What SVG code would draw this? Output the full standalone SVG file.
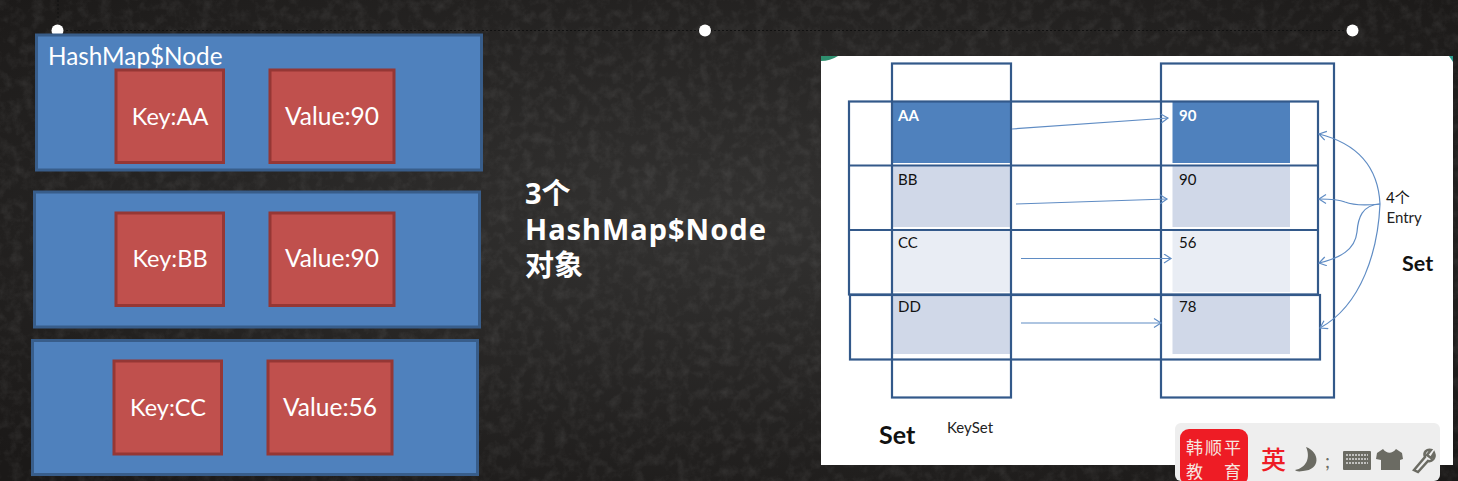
<svg xmlns="http://www.w3.org/2000/svg" width="1458" height="481" viewBox="0 0 1458 481">
<style>
.nodebox{fill:#4f81bd;stroke:#385d8a;stroke-width:3}
.red{fill:#c0504d;stroke:#953735;stroke-width:3}
.w{fill:#fff;font-family:"Lato","Noto Sans CJK SC",sans-serif;font-size:23.500px}
.v{font-size:24.500px}
.m{text-anchor:middle}
.frame{fill:none;stroke:#33598a;stroke-width:2.200}
.cell{font-family:"Lato","Noto Sans CJK SC",sans-serif;font-size:15px;fill:#111}
.wb{fill:#fff;font-weight:700}
.b{font-family:"Lato",sans-serif;font-weight:700;fill:#111;font-size:25px}
.conn{fill:none;stroke:#5f8cc4;stroke-width:1.200;marker-end:url(#arr)}
.dot{fill:#fff}
.ic{fill:#6b6b63}
</style>
<defs>
<marker id="arr" markerUnits="userSpaceOnUse" markerWidth="10" markerHeight="12" refX="8" refY="5" orient="auto"><path d="M1 0.500L8 5L1 9.500" fill="none" stroke="#5f8cc4" stroke-width="1.200"/></marker>
<radialGradient id="bg" cx="50%" cy="45%" r="70%"><stop offset="0" stop-color="#333231"/><stop offset="1" stop-color="#1b1918"/></radialGradient>
<filter id="grain" x="0" y="0" width="100%" height="100%"><feTurbulence type="fractalNoise" baseFrequency="0.09" numOctaves="5" seed="4"/><feColorMatrix values="0 0 0 0 1 0 0 0 0 1 0 0 0 0 1 0.6 0 0 0 -0.25"/></filter>
</defs>
<rect width="1458" height="481" fill="url(#bg)"/>
<rect width="1458" height="481" filter="url(#grain)" opacity="0.25"/>

<path d="M58 0V30M58 30.500H1352" fill="none" stroke="#111" stroke-width="1" stroke-dasharray="2 2"/>
<circle class="dot" cx="57.500" cy="30.500" r="6"/><circle class="dot" cx="705" cy="30.500" r="6"/><circle class="dot" cx="1352.500" cy="30.500" r="6"/>

<g id="node-aa">
<rect class="nodebox" x="36.500" y="35" width="445" height="135"/>
<text class="w" x="48" y="65" style="font-size:24.300px">HashMap$Node</text>
<rect class="red" x="116" y="70" width="107.500" height="92.500"/><text class="w m" x="170" y="125">Key:AA</text>
<rect class="red" x="270" y="70" width="124" height="92.500"/><text class="w m v" x="332" y="125">Value:90</text>
</g>
<g id="node-bb">
<rect class="nodebox" x="34.500" y="192" width="445" height="135"/>
<rect class="red" x="116" y="213" width="107.500" height="92.500"/><text class="w m" x="170" y="267">Key:BB</text>
<rect class="red" x="270" y="213" width="124" height="92.500"/><text class="w m v" x="332" y="267">Value:90</text>
</g>
<g id="node-cc">
<rect class="nodebox" x="32.500" y="340.500" width="445" height="134"/>
<rect class="red" x="114" y="361" width="107.500" height="93"/><text class="w m" x="168" y="416">Key:CC</text>
<rect class="red" x="268" y="361" width="124" height="93"/><text class="w m v" x="330" y="416">Value:56</text>
</g>

<g id="caption" font-family="'Noto Sans','Noto Sans CJK SC',sans-serif" font-weight="700" font-size="29" fill="#fff">
<text x="525" y="204">3个</text><text x="525" y="240" letter-spacing="1">HashMap$Node</text><text x="525" y="276">对象</text>
</g>

<g id="panel">
<rect x="821" y="56" width="632" height="409" fill="#fff"/>
<path d="M821 56H838Q830 61 821 61Z" fill="#2f8f6f"/>
<path d="M1449 56H1453V62Z" fill="#2f9f8f"/>
</g>
<g id="cells">
<rect x="893" y="102" width="117" height="61" fill="#4f81bd"/>
<rect x="893" y="166" width="117" height="61" fill="#d0d8e8"/>
<rect x="893" y="231" width="117" height="61" fill="#e9edf4"/>
<rect x="893" y="296" width="117" height="58" fill="#d0d8e8"/>
<rect x="1172.500" y="102" width="117.500" height="61" fill="#4f81bd"/>
<rect x="1172.500" y="166" width="117.500" height="61" fill="#d0d8e8"/>
<rect x="1172.500" y="231" width="117.500" height="61" fill="#e9edf4"/>
<rect x="1172.500" y="296" width="117.500" height="58" fill="#d0d8e8"/>
<text class="cell wb" x="898" y="121">AA</text><text class="cell" x="898" y="185">BB</text><text class="cell" x="898" y="248">CC</text><text class="cell" x="898" y="312">DD</text>
<text class="cell wb" x="1179" y="121">90</text><text class="cell" x="1179" y="185">90</text><text class="cell" x="1179" y="248">56</text><text class="cell" x="1179" y="312">78</text>
</g>
<g id="frames">
<rect class="frame" x="892" y="63.500" width="119" height="334"/>
<rect class="frame" x="1161" y="63.500" width="173" height="334"/>
<rect class="frame" x="849" y="101.500" width="469" height="193"/>
<path class="frame" d="M849 165.500H1318M849 230H1318"/>
<rect class="frame" x="850" y="295" width="470" height="64.500"/>
</g>
<g id="connectors">
<path class="conn" d="M1012 129L1168 118"/>
<path class="conn" d="M1016 204L1167 199"/>
<path class="conn" d="M1021 258.500L1171 258.500"/>
<path class="conn" d="M1021 323L1161 323"/>
<path class="conn" d="M1380 204C1378 165 1355 143 1319 134"/>
<path class="conn" d="M1380 204C1360 206 1350 204 1345 202C1338 199 1330 199 1319 199"/>
<path class="conn" d="M1380 204C1362 205 1358 218 1357 232C1355 250 1340 258 1319 263"/>
<path class="conn" d="M1380 204C1378 250 1362 305 1320 328"/>
</g>
<g id="labels">
<text x="1386" y="203" font-family="Lato,'Noto Sans CJK SC',sans-serif" font-size="15" fill="#111">4个</text>
<text x="1386.500" y="223" font-family="Lato,sans-serif" font-size="15" fill="#222">Entry</text>
<text class="b" x="1402" y="271" style="font-size:21.500px">Set</text>
<text class="b" x="879" y="444">Set</text>
<text x="947" y="433" font-family="Lato,sans-serif" font-size="15" fill="#222">KeySet</text>
</g>
<g id="ime">
<rect x="1175" y="423" width="265" height="58" rx="6" fill="#eeeeee"/>
<rect x="1180" y="429" width="68" height="56" rx="9" fill="#ee1c25"/>
<text x="1186" y="454" font-family="'Noto Sans CJK SC',sans-serif" font-size="17" letter-spacing="2" fill="#f6e6e0">韩顺平</text>
<text x="1186" y="478" font-family="'Noto Sans CJK SC',sans-serif" font-size="17" fill="#f6e6e0">教</text>
<text x="1224" y="478" font-family="'Noto Sans CJK SC',sans-serif" font-size="17" fill="#f6e6e0">育</text>
<text x="1261" y="469" font-family="'Noto Sans CJK SC',sans-serif" font-size="25" font-weight="500" fill="#ee1c25">英</text>
<path class="ic" d="M1306 447C1320 452 1321 470 1303 471C1298 472 1296 471 1295 470C1306 468 1311 458 1306 447Z"/>
<text x="1325" y="468" font-family="Lato,sans-serif" font-size="19" fill="#6b6b63">;</text>
<rect class="ic" x="1343" y="451" width="28" height="19" rx="1"/>
<path d="M1346 455h22M1346 459h22M1346 463h22" stroke="#ddd" stroke-width="1.500" stroke-dasharray="2 1"/>
<path class="ic" d="M1383 449L1377 453L1376 459L1381 460V470H1400V460L1403 459L1402 453L1396 449C1392 454 1387 454 1383 449Z"/>
<path d="M1414 470L1425 457C1423 452 1427 449 1431 450L1427 455L1431 458L1434 453C1436 458 1432 462 1428 461L1418 472Z" fill="none" stroke="#6b6b63" stroke-width="2.500"/>
</g>
</svg>
